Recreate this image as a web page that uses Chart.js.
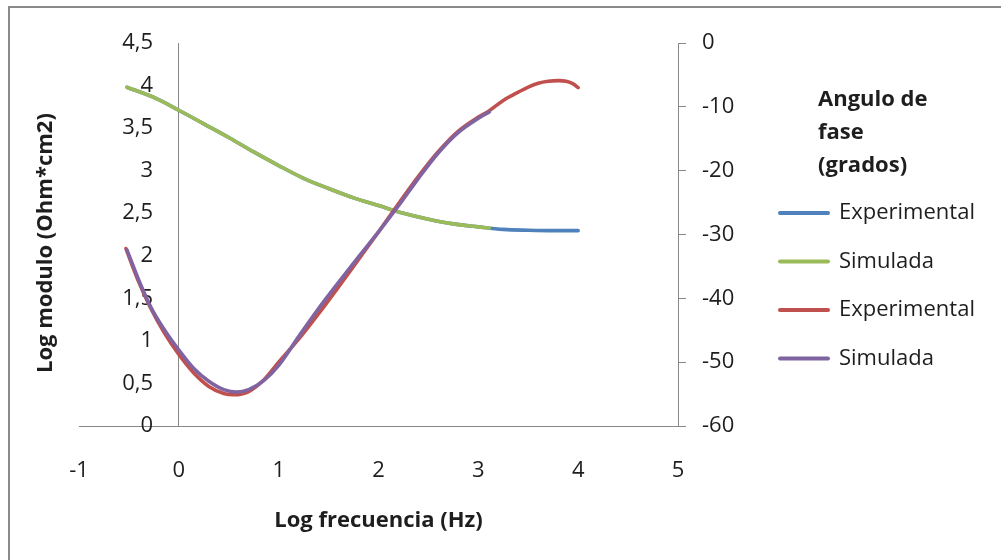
<!DOCTYPE html>
<html><head><meta charset="utf-8">
<script src="https://cdn.jsdelivr.net/npm/chart.js@4.4.0/dist/chart.umd.min.js"></script>
<style>html,body{margin:0;padding:0;background:#fff;}#wrap{width:1001px;height:560px;}</style>
</head><body><div id="wrap"><canvas id="c" width="1001" height="560"></canvas></div>
<script>
const xTickLabels = ['-1','0','1','2','3','4','5'];
const leftTickLabels = ['0','0,5','1','1,5','2','2,5','3','3,5','4','4,5'];
const rightTickLabels = ['-60','-50','-40','-30','-20','-10','0'];
const seriesNames = ['Experimental','Simulada','Experimental','Simulada'];
const legendTitleLines = ['Angulo de','fase','(grados)'];
const xAxisTitle = 'Log frecuencia (Hz)';
const yAxisTitle = 'Log modulo (Ohm*cm2)';

// Log modulo, experimental (blue)
const modExpX = [-0.52,-0.25,0,0.25,0.5,0.75,1,1.25,1.5,1.75,2,2.25,2.5,2.75,3,3.25,3.5,3.75,4];
const modExpY = [3.98,3.86,3.71,3.55,3.39,3.22,3.06,2.91,2.79,2.68,2.59,2.50,2.43,2.375,2.34,2.31,2.30,2.295,2.295];
// Log modulo, simulada (green)
const modSimX = [-0.52,-0.25,0,0.25,0.5,0.75,1,1.25,1.5,1.75,2,2.25,2.5,2.75,3,3.11];
const modSimY = [3.98,3.86,3.71,3.55,3.39,3.22,3.06,2.91,2.79,2.68,2.59,2.50,2.43,2.375,2.34,2.325];
// Angulo de fase, experimental (red)
const phaseExpX = [-0.53,-0.4,-0.28,-0.15,0,0.15,0.3,0.45,0.55,0.7,0.85,1,1.2,1.4,1.6,1.8,2,2.2,2.4,2.6,2.8,3,3.11,3.25,3.4,3.5,3.6,3.7,3.8,3.88,3.95,4];
const phaseExpY = [-32.2,-37.5,-41.6,-45.3,-48.8,-51.7,-53.8,-54.9,-55.1,-54.6,-52.8,-50.0,-46.4,-42.4,-38.2,-33.9,-29.6,-25.2,-20.9,-17.0,-13.8,-11.6,-10.6,-9.0,-7.7,-6.9,-6.3,-6.0,-5.9,-6.0,-6.4,-7.0];
// Angulo de fase, simulada (purple)
const phaseSimX = [-0.52,-0.4,-0.28,-0.15,0,0.15,0.3,0.45,0.58,0.7,0.85,1,1.2,1.4,1.6,1.8,2,2.2,2.4,2.6,2.8,3,3.11];
const phaseSimY = [-32.4,-37.2,-41.4,-44.8,-48.1,-51.0,-53.0,-54.3,-54.7,-54.3,-52.9,-50.5,-46.0,-41.6,-37.5,-33.5,-29.6,-25.5,-21.2,-17.2,-14.0,-11.8,-10.8];

const FONT = '"Open Sans", "DejaVu Sans", sans-serif';
const TXT = '#1e1e1e';
const AXIS = '#888888';
const TICK_SIZE = 22;
const LEGEND_WIDTH = 230;

const pts = (xs, ys) => xs.map((x, i) => ({x: x, y: ys[i]}));

// measure widest left label to right-align mirrored labels
const mctx = document.createElement('canvas').getContext('2d');
mctx.font = TICK_SIZE + 'px ' + FONT;
const widestLeft = Math.max(...leftTickLabels.map(t => mctx.measureText(t).width));
const leftPad = 153 - 79 - widestLeft;

function ds(label, xs, ys, color, axis, order) {
  return {
    label: label, data: pts(xs, ys), borderColor: color, backgroundColor: color,
    borderWidth: 3.6, pointRadius: 0, pointHoverRadius: 0, pointBorderWidth: 4,
    borderCapStyle: 'round', borderJoinStyle: 'round',
    cubicInterpolationMode: 'monotone', yAxisID: axis, order: order, fill: false
  };
}

function patchLegend(chart) {
  const lg = chart.legend;
  if (lg && !lg._fitPatched) {
    const orig = lg.fit;
    lg.fit = function() { orig.call(this); this.width = LEGEND_WIDTH; };
    lg._fitPatched = true;
  }
}

const framePlugin = {
  id: 'frame',
  beforeUpdate(chart) { patchLegend(chart); },
  beforeLayout(chart) { patchLegend(chart); },
  beforeDraw(chart) {
    const ctx = chart.ctx;
    ctx.save();
    ctx.fillStyle = '#ffffff';
    ctx.fillRect(0, 0, chart.width, chart.height);
    ctx.strokeStyle = '#8a8a8a';
    ctx.lineWidth = 2;
    ctx.strokeRect(9, 7, 1200, 800);
    ctx.restore();
  },
  afterDraw(chart) {
    const ctx = chart.ctx;
    const lg = chart.legend;
    ctx.save();
    ctx.font = 'bold ' + TICK_SIZE + 'px ' + FONT;
    ctx.fillStyle = TXT;
    ctx.textAlign = 'left';
    ctx.textBaseline = 'middle';
    legendTitleLines.forEach((t, i) => ctx.fillText(t, lg.left + 64.5, 100 + i * 33));
    ctx.restore();
  }
};

const chart = new Chart(document.getElementById('c'), {
  type: 'line',
  data: {
    datasets: [
      ds(seriesNames[0], modExpX, modExpY, '#4F81BD', 'yL', 4),
      ds(seriesNames[1], modSimX, modSimY, '#9BBB59', 'yL', 3),
      ds(seriesNames[2], phaseExpX, phaseExpY, '#C0504D', 'yR', 2),
      ds(seriesNames[3], phaseSimX, phaseSimY, '#8064A2', 'yR', 1)
    ]
  },
  options: {
    responsive: false,
    animation: false,
    devicePixelRatio: 1,
    layout: {padding: {left: 20, right: 17.5, top: 43, bottom: 0}},
    plugins: {
      tooltip: {enabled: false},
      legend: {
        position: 'right', align: 'start',
        title: {display: true, text: '', font: {size: TICK_SIZE, family: FONT}, padding: {top: 50, bottom: 56.1}},
        labels: {
          usePointStyle: true, pointStyle: 'line', pointStyleWidth: 48,
          font: {size: TICK_SIZE, family: FONT}, color: TXT, padding: 26.5,
          sort: (a, b) => a.datasetIndex - b.datasetIndex,
          generateLabels(chart) {
            const items = Chart.defaults.plugins.legend.labels.generateLabels(chart);
            items.forEach(it => { it.lineCap = 'round'; it.lineWidth = 4; });
            return items;
          }
        }
      }
    },
    scales: {
      x: {
        type: 'linear', position: 'bottom', min: -1, max: 5,
        afterFit(s) { s.height = 134; },
        border: {display: true, color: AXIS, width: 1},
        grid: {
          drawTicks: false, lineWidth: 1,
          color: c => (c.tick && c.tick.value === 0) ? AXIS : 'rgba(0,0,0,0)'
        },
        ticks: {stepSize: 1, padding: 31.8, color: TXT, font: {size: TICK_SIZE, family: FONT},
          maxRotation: 0, autoSkip: false,
          callback: (v, i) => xTickLabels[i]},
        title: {display: true, text: xAxisTitle, color: TXT,
          font: {size: TICK_SIZE, family: FONT, weight: 'bold'}, padding: {top: 0, bottom: 25.8}}
      },
      yL: {
        type: 'linear', position: 'left', min: 0, max: 4.5,
        afterFit(s) { s.width = 59; s.paddingTop = 0; s.paddingBottom = 0; },
        border: {display: false},
        grid: {display: false, drawTicks: false},
        ticks: {stepSize: 0.5, mirror: true, crossAlign: 'far', padding: leftPad, color: TXT,
          font: {size: TICK_SIZE, family: FONT}, autoSkip: false,
          callback: (v, i) => leftTickLabels[i]},
        title: {display: true, text: yAxisTitle + '   ', color: TXT,
          font: {size: TICK_SIZE, family: FONT, weight: 'bold'}, padding: {top: 12.8, bottom: 0}}
      },
      yR: {
        type: 'linear', position: 'right', min: -60, max: 0,
        afterFit(s) { s.width = 75.5; s.paddingTop = 0; s.paddingBottom = 0; },
        border: {display: true, color: AXIS, width: 1},
        grid: {drawOnChartArea: false, drawTicks: true, tickLength: 8, color: AXIS, lineWidth: 1},
        ticks: {stepSize: 10, padding: 16, color: TXT, font: {size: TICK_SIZE, family: FONT}, autoSkip: false,
          callback: (v, i) => rightTickLabels[i]}
      }
    }
  },
  plugins: [framePlugin]
});
</script>
</body></html>
